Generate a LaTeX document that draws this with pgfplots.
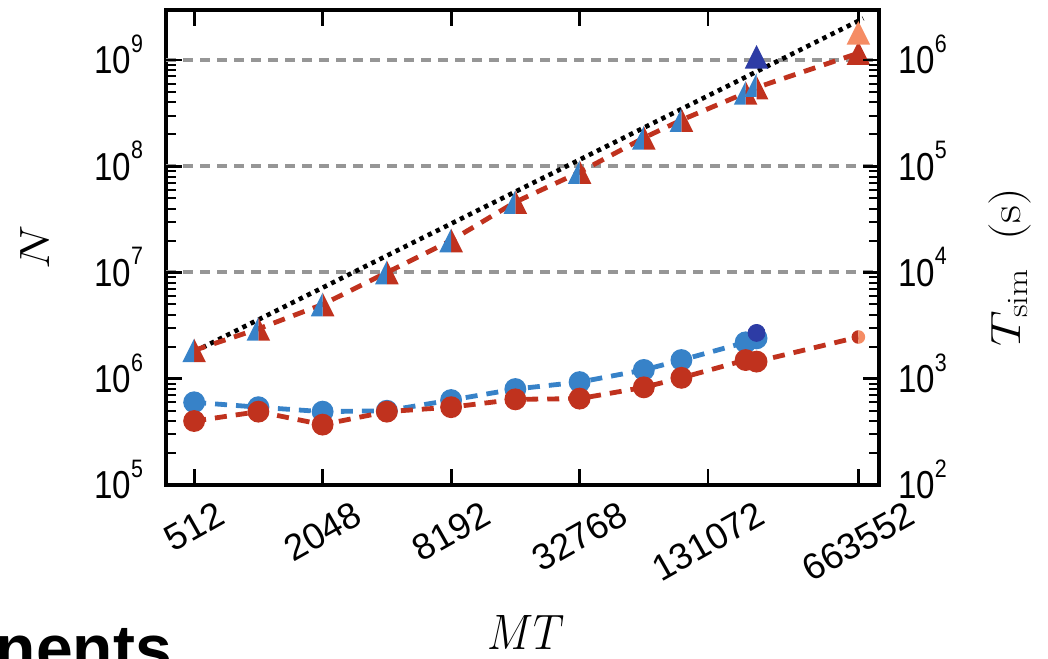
\documentclass[border=0pt]{standalone}
\usepackage{fontspec}
\usepackage{pgfplots}
\pgfplotsset{compat=1.18}
\newfontfamily\tickfont{Liberation Sans}[FakeStretch=0.85]
\newfontfamily\xtickfont{Liberation Sans}
\newfontfamily\headfont{Liberation Sans}

\definecolor{cblue}{RGB}{55,130,200}
\definecolor{cred}{RGB}{192,50,30}
\definecolor{cdark}{RGB}{45,60,165}
\definecolor{corange}{RGB}{245,140,100}
\definecolor{cgrid}{RGB}{150,150,150}

% half-filled markers
\pgfdeclareplotmark{tri}{%
  \pgfpathmoveto{\pgfqpoint{0pt}{\pgfplotmarksize}}%
  \pgfpathlineto{\pgfqpoint{-\pgfplotmarksize}{-\pgfplotmarksize}}%
  \pgfpathlineto{\pgfqpoint{\pgfplotmarksize}{-\pgfplotmarksize}}%
  \pgfpathclose\pgfusepathqfill}
\pgfdeclareplotmark{triL}{%
  \pgfpathmoveto{\pgfqpoint{0pt}{\pgfplotmarksize}}%
  \pgfpathlineto{\pgfqpoint{-\pgfplotmarksize}{-\pgfplotmarksize}}%
  \pgfpathlineto{\pgfqpoint{0pt}{-\pgfplotmarksize}}%
  \pgfpathclose\pgfusepathqfill}
\pgfdeclareplotmark{triR}{%
  \pgfpathmoveto{\pgfqpoint{0pt}{\pgfplotmarksize}}%
  \pgfpathlineto{\pgfqpoint{0pt}{-\pgfplotmarksize}}%
  \pgfpathlineto{\pgfqpoint{\pgfplotmarksize}{-\pgfplotmarksize}}%
  \pgfpathclose\pgfusepathqfill}
\pgfdeclareplotmark{cirL}{%
  \pgfpathmoveto{\pgfqpoint{0pt}{\pgfplotmarksize}}%
  \pgfpatharc{90}{270}{\pgfplotmarksize}%
  \pgfpathclose\pgfusepathqfill}
\pgfdeclareplotmark{cirR}{%
  \pgfpathmoveto{\pgfqpoint{0pt}{-\pgfplotmarksize}}%
  \pgfpatharc{270}{450}{\pgfplotmarksize}%
  \pgfpathclose\pgfusepathqfill}

\newcommand{\tl}[1]{{\tickfont\fontsize{19.5}{20}\selectfont 10\raisebox{10.8pt}{\fontsize{12.6}{13}\selectfont #1}}}
\newcommand{\xl}[1]{\rotatebox{29.5}{\xtickfont\fontsize{18.3}{20}\selectfont #1}}

\tikzset{dashline/.style={line width=2.4pt, dash pattern=on 6pt off 4.5pt}}

\begin{document}
\begin{tikzpicture}[x=1pt,y=1pt]
\useasboundingbox (0,0) rectangle (524,329);

\begin{axis}[
  at={(83pt,86.5pt)}, anchor=south west,
  width=356.5pt, height=237.5pt, scale only axis,
  xmode=log, ymode=log, log basis x=2,
  xmin=378, xmax=829000,
  ymin=1e5, ymax=2.955e9,
  tick align=inside,
  major tick length=8pt, minor tick length=5pt,
  every tick/.style={black, line width=1.4pt},
  minor tick style={line width=1pt},
  axis line style={line width=2.2pt},
  label style={font=\fontsize{25}{30}\selectfont},
  xtick={512,2048,8192,32768,131072,663552},
  xticklabels={\xl{512},\xl{2048},\xl{8192},\xl{32768},\xl{131072},\xl{663552}},
  minor xtick={},
  xticklabel style={anchor=north, yshift=-4pt},
  ytick={1e5,1e6,1e7,1e8,1e9},
  yticklabels={\tl{5},\tl{6},\tl{7},\tl{8},\tl{9}},
  ytick pos=left,
  yticklabel style={anchor=base east, xshift=-8pt, yshift=-7pt},
  extra y ticks={1e7,1e8,1e9},
  extra y tick labels={},
  extra y tick style={grid=major, major grid style={cgrid, line width=2pt, dash pattern=on 5pt off 3.5pt}},
  xlabel={\scalebox{0.88}[1]{$MT$}},
  xlabel style={at={(axis description cs:0.505,-0.31)}, anchor=center},
  ylabel={\scalebox{1}[0.85]{$N$}},
  ylabel style={at={(axis description cs:-0.184,0.5)}, anchor=center},
]
% ideal linear scaling
\addplot[black, line width=2.3pt, dash pattern=on 2.2pt off 2.3pt] coordinates {(512,1.8e6) (700000,2.46e9)};
% N, red series
\addplot[cred, dashline, mark=triR, mark size=5.9pt, mark options={solid},
  mark indices={1,2,3,4,5,6,7,8,9,10,11}] coordinates {
  (512,1.85e6) (1024,2.95e6) (2048,5.0e6) (4096,1.0e7) (8192,2.0e7) (16384,4.6e7)
  (32768,8.8e7) (65536,1.85e8) (98304,2.72e8) (196608,4.9e8) (221184,5.5e8) (663552,1.16e9)};
\addplot[cred, only marks, mark=tri, mark size=5.9pt] coordinates {(663552,1.16e9)};
% N, blue series
\addplot[cblue, only marks, mark=triL, mark size=5.9pt] coordinates {
  (512,1.85e6) (1024,2.95e6) (2048,5.0e6) (4096,1.0e7) (8192,2.0e7) (16384,4.6e7)
  (32768,8.8e7) (65536,1.85e8) (98304,2.72e8) (196608,4.9e8) (221184,5.8e8)};
\addplot[cdark, only marks, mark=tri, mark size=5.9pt] coordinates {(221184,1.07e9)};
\addplot[corange, only marks, mark=tri, mark size=5.9pt] coordinates {(663552,1.8e9)};
\end{axis}

\begin{axis}[
  at={(83pt,86.5pt)}, anchor=south west,
  width=356.5pt, height=237.5pt, scale only axis,
  xmode=log, ymode=log, log basis x=2,
  xmin=378, xmax=829000,
  ymin=1e2, ymax=2.955e6,
  tick align=inside,
  major tick length=8pt, minor tick length=5pt,
  every tick/.style={black, line width=1.4pt},
  minor tick style={line width=1pt},
  axis line style={line width=2.2pt},
  label style={font=\fontsize{25}{30}\selectfont},
  axis x line=none, axis y line*=right,
  ytick={1e2,1e3,1e4,1e5,1e6},
  yticklabels={\tl{2},\tl{3},\tl{4},\tl{5},\tl{6}},
  yticklabel style={anchor=base west, xshift=6pt, yshift=-7pt},
  ylabel={\scalebox{1}[0.85]{$T_{\mathrm{sim}}\;\;(\mathrm{s})$}},
  ylabel style={at={(axis description cs:1.184,0.459)}, anchor=center},
]
% T_sim, blue series
\addplot[cblue, dashline, mark=*, mark size=4.25pt, mark options={solid}] coordinates {
  (512,600) (1024,540) (2048,490) (4096,500) (8192,630) (16384,800)
  (32768,930) (65536,1210) (98304,1500) (196608,2200) (221184,2400)};
% T_sim, red series
\addplot[cred, dashline, mark=*, mark size=4.25pt, mark options={solid},
  mark indices={1,2,3,4,5,6,7,8,9,10,11}] coordinates {
  (512,400) (1024,490) (2048,370) (4096,490) (8192,540) (16384,640)
  (32768,650) (65536,830) (98304,1020) (196608,1500) (221184,1450) (663552,2470)};
\addplot[cdark, only marks, mark=*, mark size=4.25pt] coordinates {(221184,2700)};
\addplot[cred, only marks, mark=cirL, mark size=3.4pt] coordinates {(663552,2470)};
\addplot[corange, only marks, mark=cirR, mark size=3.4pt] coordinates {(663552,2470)};
\end{axis}

\node[anchor=base west, inner sep=0pt, font=\headfont\bfseries\fontsize{33}{36}\selectfont] at (-2.3,-6.5) {nents};
\end{tikzpicture}
\end{document}
